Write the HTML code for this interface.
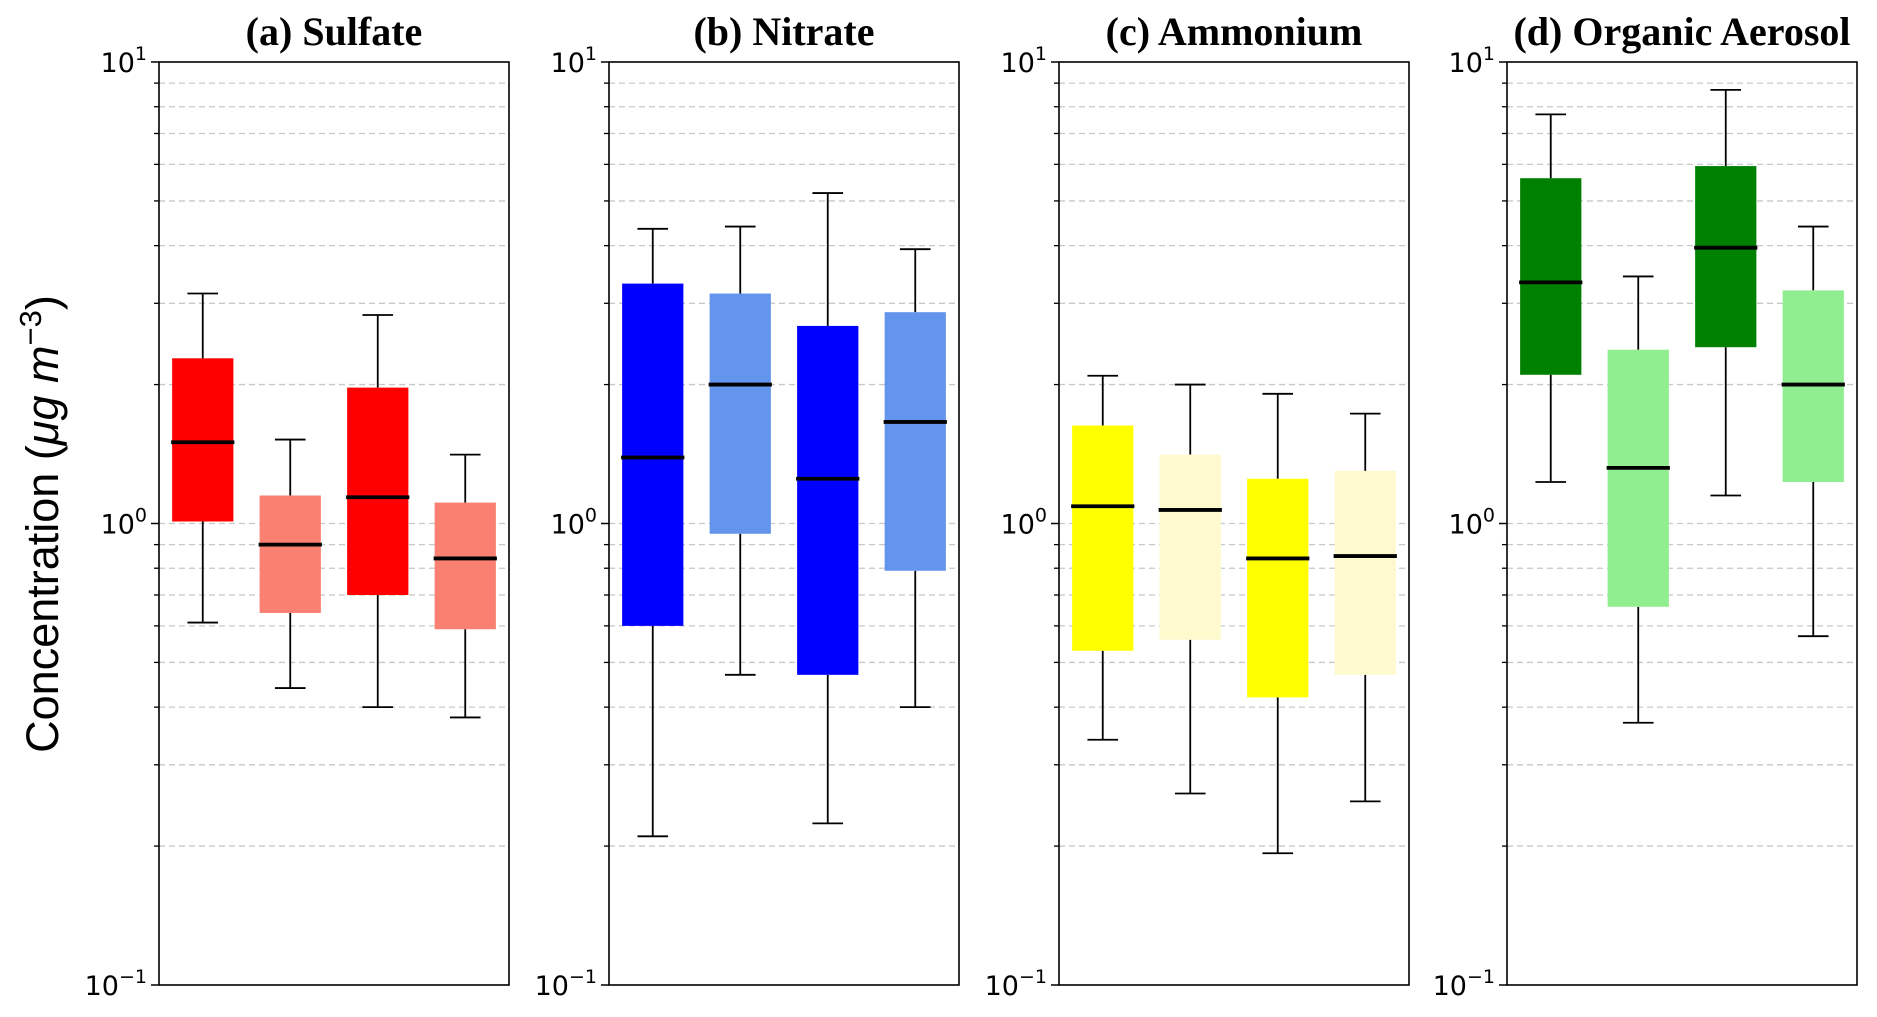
<!DOCTYPE html>
<html><head><meta charset="utf-8"><style>
html,body{margin:0;padding:0;background:#fff;}
svg{display:block;}
</style></head><body>
<svg id="chart" width="1877" height="1017" viewBox="0 0 1877 1017" xmlns="http://www.w3.org/2000/svg">
<text transform="translate(58,524) rotate(-90)" text-anchor="middle" font-family="Liberation Sans, DejaVu Sans, sans-serif" font-size="45">Concentration (<tspan font-style="italic">μg m</tspan><tspan font-size="31" dy="-17">−3</tspan><tspan dy="17">)</tspan></text>
</svg>
<script>
const panelTitles = ["(a) Sulfate","(b) Nitrate","(c) Ammonium","(d) Organic Aerosol"];
const panelColors = [["#ff0000","#fa8072"],["#0000ff","#6495ed"],["#ffff00","#fffacd"],["#008000","#90ee90"]];
const whiskerHigh = [[3.15,1.52,2.83,1.41],[4.35,4.4,5.2,3.93],[2.09,2.0,1.91,1.73],[7.7,3.43,8.7,4.4]];
const q3Values = [[2.28,1.15,1.97,1.11],[3.31,3.15,2.68,2.87],[1.63,1.41,1.25,1.30],[5.6,2.38,5.95,3.2]];
const medianValues = [[1.50,0.90,1.14,0.84],[1.39,2.0,1.25,1.66],[1.09,1.07,0.84,0.85],[3.33,1.32,3.96,2.0]];
const q1Values = [[1.01,0.64,0.70,0.59],[0.60,0.95,0.47,0.79],[0.53,0.56,0.42,0.47],[2.10,0.66,2.41,1.23]];
const whiskerLow = [[0.61,0.44,0.40,0.38],[0.21,0.47,0.224,0.40],[0.34,0.26,0.193,0.25],[1.23,0.37,1.15,0.57]];
const tickExponents = [-1,0,1];

const NS="http://www.w3.org/2000/svg";
const svgEl=document.getElementById('chart');
const panelLeft=[159,609,1059,1507], panelW=350, plotTop=62, plotBottom=985;
function yScale(v){return plotBottom-(Math.log10(v)+1)/2*(plotBottom-plotTop);}
function mk(tag,attrs,parent){const e=document.createElementNS(NS,tag);for(const k in attrs)e.setAttribute(k,attrs[k]);(parent||svgEl).appendChild(e);return e;}

panelTitles.forEach((title,p)=>{
  const L=panelLeft[p], R=L+panelW;
  const g=mk('g',{});
  
  
  function xPos(i){return L+(i+0.5)/4*panelW;}
  for(let d=-1;d<=0;d++){for(let m=2;m<=9;m++){
    const yy=yScale(m*Math.pow(10,d));
    const gl=mk('line',{x1:L,x2:R,y1:yy,y2:yy,stroke:'#c8c8c8','stroke-width':1.3,'stroke-dasharray':'6,4'},g);
    
    
    const t=mk('line',{x1:L-5,x2:L,y1:yy,y2:yy,stroke:'#000','stroke-width':1.3},g);
    
    
  }}
  tickExponents.forEach(e=>{
    const yy=yScale(Math.pow(10,e));
    if(e===0){const gl=mk('line',{x1:L,x2:R,y1:yy,y2:yy,stroke:'#c8c8c8','stroke-width':1.3,'stroke-dasharray':'6,4'},g);
      
      }
    const t=mk('line',{x1:L-8,x2:L,y1:yy,y2:yy,stroke:'#000','stroke-width':1.5},g);
    
    
    const lab=mk('text',{x:L-12,y:yy+10,'text-anchor':'end','font-family':'DejaVu Sans, sans-serif','font-size':27},g);
    
    
    lab.textContent='10';
    const sup=mk('tspan',{dy:-12,'font-size':19},lab);
    sup.textContent=(e<0?'−':'')+Math.abs(e);
  });
  for(let i=0;i<4;i++){
    const cx=xPos(i), bw=0.7/4*panelW, cw=bw/2;
    const bg=mk('g',{},g);
    
    
    mk('line',{x1:cx,x2:cx,y1:yScale(whiskerHigh[p][i]),y2:yScale(q3Values[p][i]),stroke:'#000','stroke-width':1.8},bg);
    mk('line',{x1:cx,x2:cx,y1:yScale(q1Values[p][i]),y2:yScale(whiskerLow[p][i]),stroke:'#000','stroke-width':1.8},bg);
    mk('line',{x1:cx-cw/2,x2:cx+cw/2,y1:yScale(whiskerHigh[p][i]),y2:yScale(whiskerHigh[p][i]),stroke:'#000','stroke-width':1.8},bg);
    mk('line',{x1:cx-cw/2,x2:cx+cw/2,y1:yScale(whiskerLow[p][i]),y2:yScale(whiskerLow[p][i]),stroke:'#000','stroke-width':1.8},bg);
    mk('rect',{x:cx-bw/2,y:yScale(q3Values[p][i]),width:bw,height:yScale(q1Values[p][i])-yScale(q3Values[p][i]),fill:panelColors[p][i%2]},bg);
    mk('line',{x1:cx-bw/2-1,x2:cx+bw/2+1,y1:yScale(medianValues[p][i]),y2:yScale(medianValues[p][i]),stroke:'#000','stroke-width':3.8},bg);
  }
  const fr=mk('rect',{x:L,y:plotTop,width:panelW,height:plotBottom-plotTop,fill:'none',stroke:'#000','stroke-width':1.6},g);
  
  
  const tt=mk('text',{x:L+panelW/2,y:45,'text-anchor':'middle','font-family':'Liberation Serif, serif','font-weight':'bold','font-size':40},g);
  
  
  tt.textContent=title;
});
</script>
</body></html>
